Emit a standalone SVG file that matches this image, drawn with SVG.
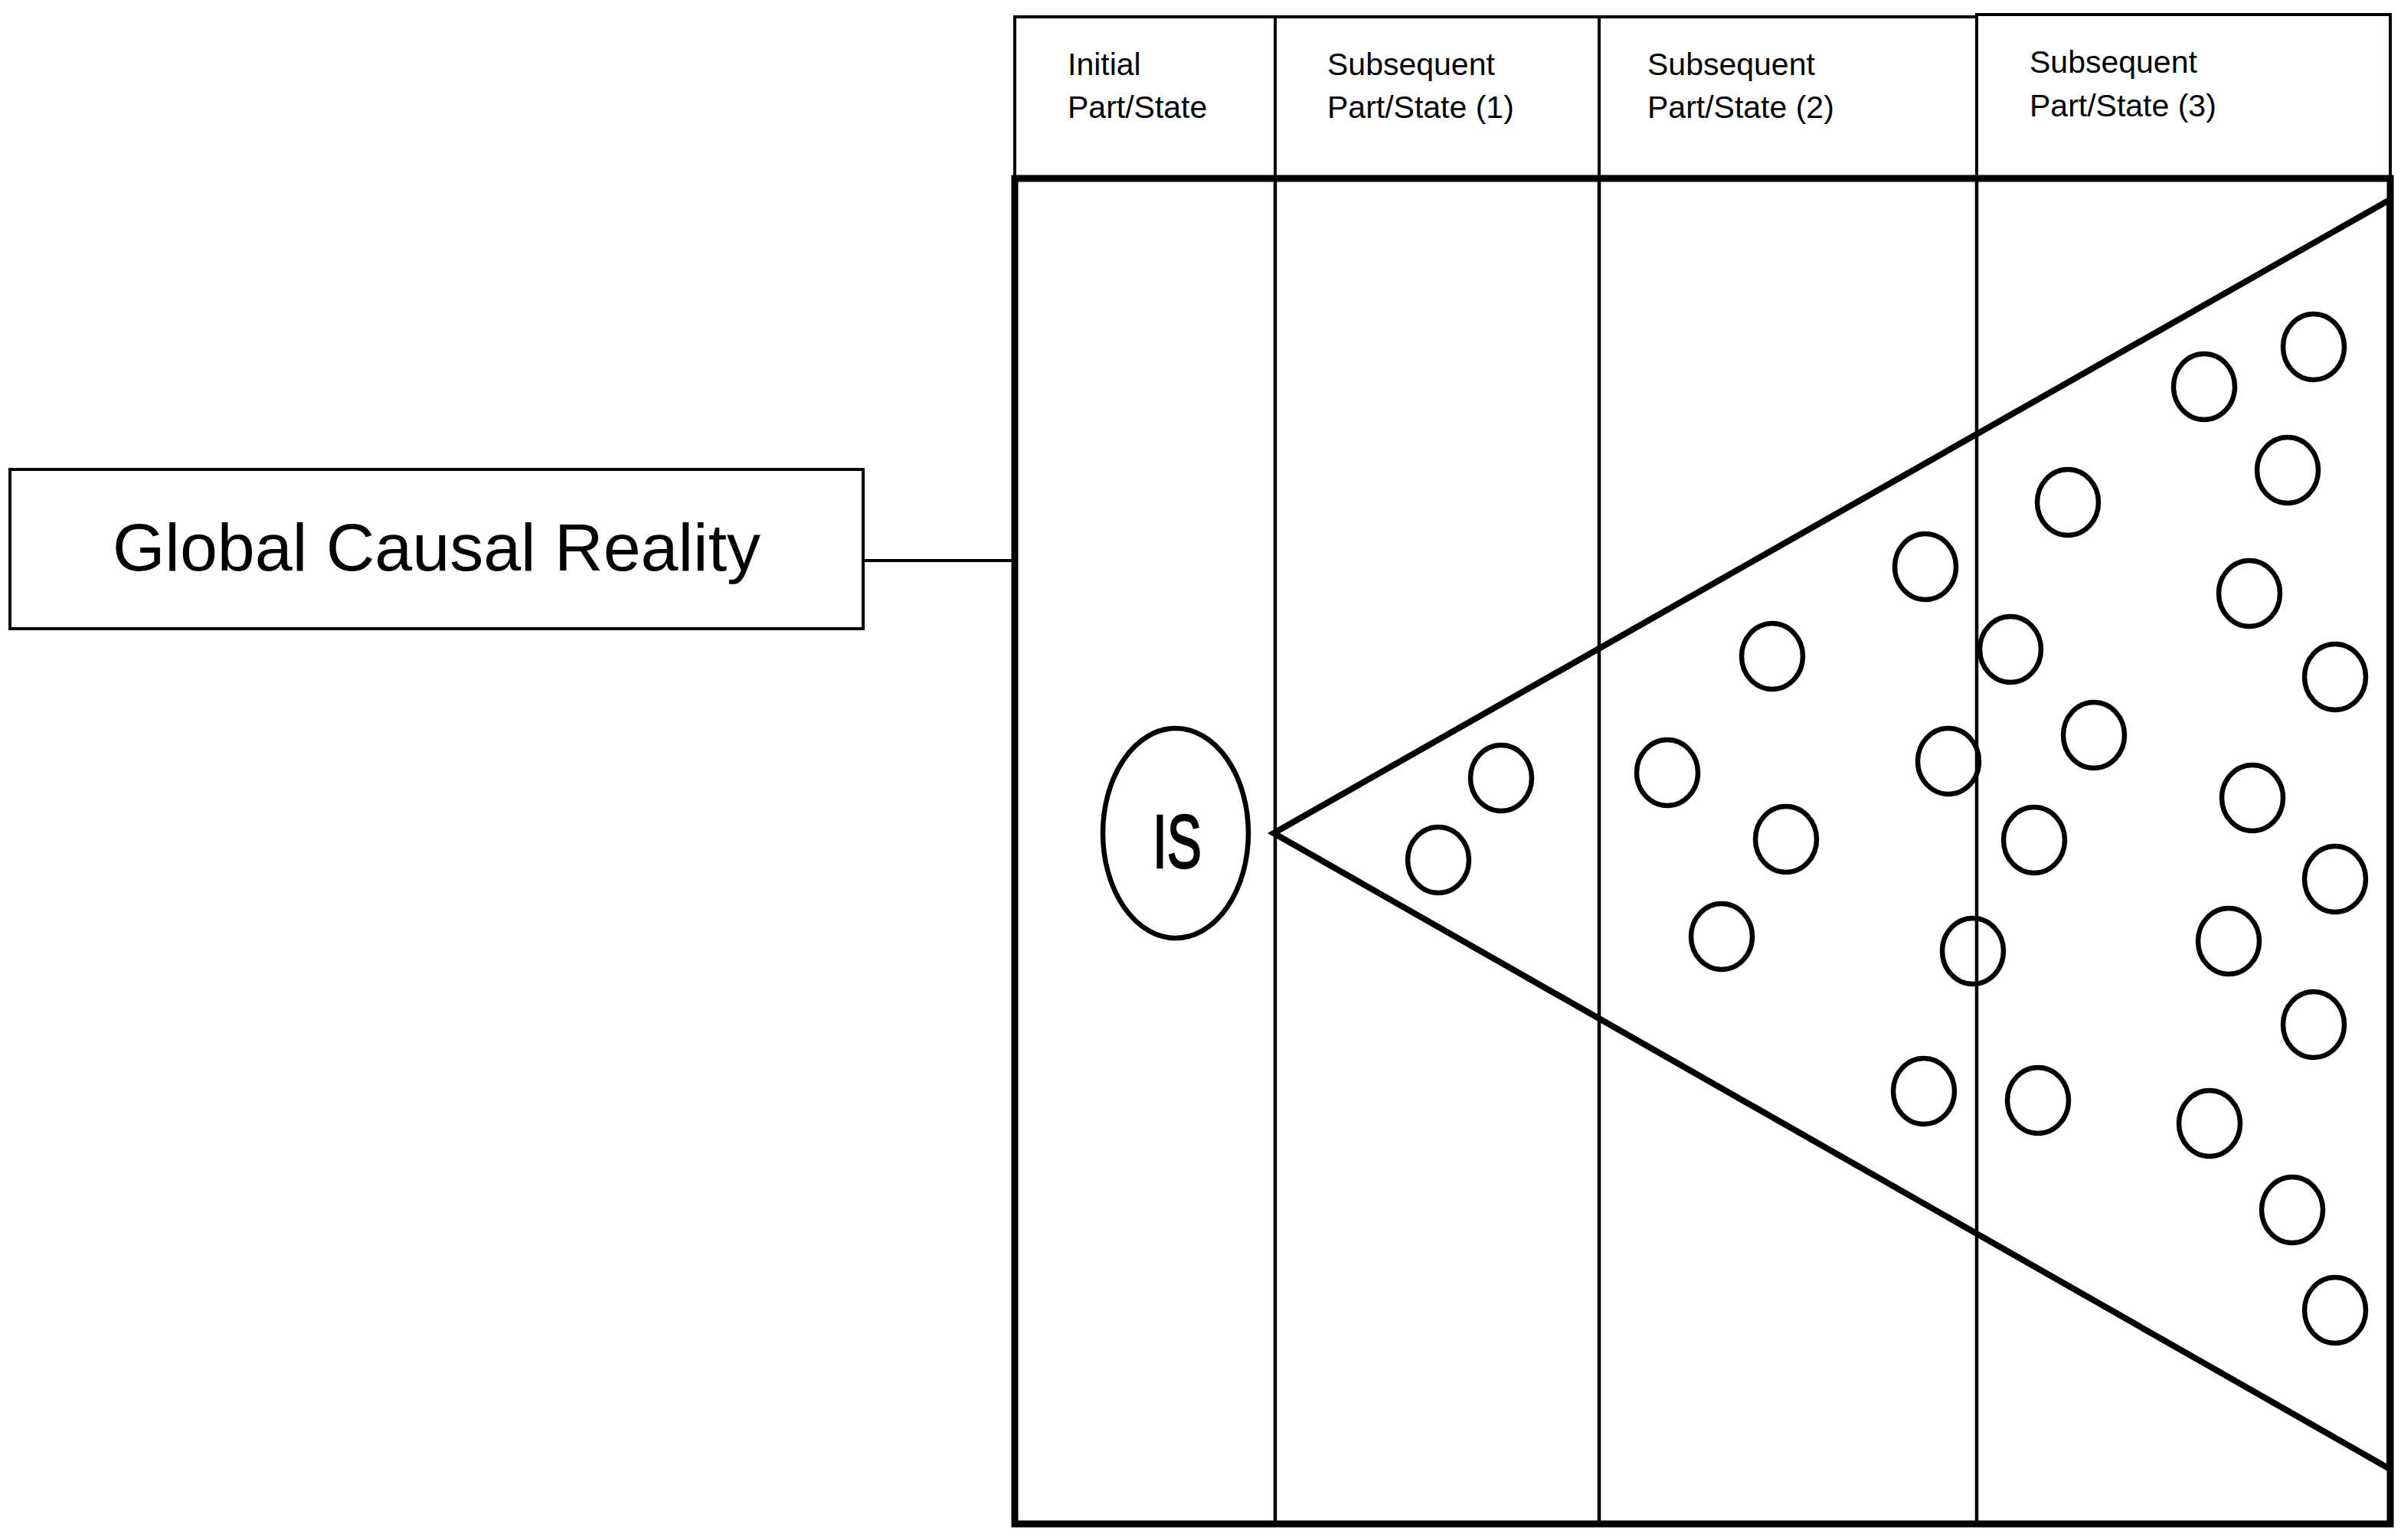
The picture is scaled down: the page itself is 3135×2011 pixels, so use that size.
<svg xmlns="http://www.w3.org/2000/svg" width="3135" height="2011" viewBox="0 0 3135 2011">
  <style>
    .thin { fill: none; stroke: #000; stroke-width: 4; }
    .col { fill: none; stroke: #000; stroke-width: 4.5; }
    .frame { fill: none; stroke: #000; stroke-width: 9; }
    .tri { fill: none; stroke: #000; stroke-width: 8; stroke-linejoin: miter; }
    .dot { fill: none; stroke: #000; stroke-width: 6.5; }
    .hdr { font-family: "Liberation Sans", Arial, sans-serif; font-size: 41px; fill: #000; }
    .big { font-family: "Liberation Sans", Arial, sans-serif; font-size: 88px; fill: #000; }
    .is { font-family: "Liberation Sans", Arial, sans-serif; font-size: 98px; fill: #000; stroke: #000; stroke-width: 2.5; }
  </style>
  <rect width="3135" height="2011" fill="#fff"/>

  <g id="header">
    <rect class="thin" x="1325" y="22" width="340" height="211"/>
    <rect class="thin" x="1665" y="22" width="423" height="211"/>
    <rect class="thin" x="2088" y="22" width="493" height="211"/>
    <rect class="thin" x="2581" y="19" width="540" height="214"/>
    <text class="hdr" x="1394" y="98">Initial</text>
    <text class="hdr" x="1394" y="154">Part/State</text>
    <text class="hdr" x="1733" y="98">Subsequent</text>
    <text class="hdr" x="1733" y="154">Part/State (1)</text>
    <text class="hdr" x="2151" y="98">Subsequent</text>
    <text class="hdr" x="2151" y="154">Part/State (2)</text>
    <text class="hdr" x="2650" y="95">Subsequent</text>
    <text class="hdr" x="2650" y="152">Part/State (3)</text>
  </g>

  <g id="frame">
    <line class="col" x1="1665" y1="233" x2="1665" y2="1990"/>
    <line class="col" x1="2088" y1="233" x2="2088" y2="1990"/>
    <line class="col" x1="2581" y1="233" x2="2581" y2="1990"/>
    <rect class="frame" x="1325" y="233" width="1796" height="1757"/>
  </g>

  <g id="global-causal-reality">
    <rect class="thin" x="13" y="613" width="1114" height="208"/>
    <text class="big" x="570" y="745" text-anchor="middle">Global Causal Reality</text>
  </g>

  <g id="connectors">
    <line class="thin" x1="1127" y1="732" x2="1325" y2="732"/>
  </g>

  <g id="is-node">
    <ellipse class="dot" cx="1535" cy="1088" rx="95" ry="137"/>
    <text class="is" x="1537" y="1133" text-anchor="middle" textLength="64" lengthAdjust="spacingAndGlyphs">IS</text>
  </g>

  <g id="cone">
    <polygon class="tri" points="1663,1088 3120,261 3120,1918"/>
  </g>

  <g id="states">
    <g id="s1"><ellipse class="dot" cx="1960" cy="1016" rx="40" ry="43"/></g>
    <g id="s2"><ellipse class="dot" cx="1878" cy="1123" rx="40" ry="43"/></g>
    <g id="s3"><ellipse class="dot" cx="2314" cy="857" rx="40" ry="43"/></g>
    <g id="s4"><ellipse class="dot" cx="2177" cy="1009" rx="40" ry="43"/></g>
    <g id="s5"><ellipse class="dot" cx="2332" cy="1096" rx="40" ry="43"/></g>
    <g id="s6"><ellipse class="dot" cx="2248" cy="1223" rx="40" ry="43"/></g>
    <g id="s7"><ellipse class="dot" cx="2514" cy="740" rx="40" ry="43"/></g>
    <g id="s8"><ellipse class="dot" cx="2544" cy="994" rx="40" ry="43"/></g>
    <g id="s9"><ellipse class="dot" cx="2576" cy="1242" rx="40" ry="43"/></g>
    <g id="s10"><ellipse class="dot" cx="2512" cy="1425" rx="40" ry="43"/></g>
    <g id="s11"><ellipse class="dot" cx="2700" cy="656" rx="40" ry="43"/></g>
    <g id="s12"><ellipse class="dot" cx="2625" cy="848" rx="40" ry="43"/></g>
    <g id="s13"><ellipse class="dot" cx="2734" cy="960" rx="40" ry="43"/></g>
    <g id="s14"><ellipse class="dot" cx="2656" cy="1097" rx="40" ry="43"/></g>
    <g id="s15"><ellipse class="dot" cx="2661" cy="1437" rx="40" ry="43"/></g>
    <g id="s16"><ellipse class="dot" cx="2878" cy="505" rx="40" ry="43"/></g>
    <g id="s17"><ellipse class="dot" cx="3021" cy="453" rx="40" ry="43"/></g>
    <g id="s18"><ellipse class="dot" cx="2987" cy="614" rx="40" ry="43"/></g>
    <g id="s19"><ellipse class="dot" cx="2937" cy="775" rx="40" ry="43"/></g>
    <g id="s20"><ellipse class="dot" cx="3049" cy="884" rx="40" ry="43"/></g>
    <g id="s21"><ellipse class="dot" cx="2941" cy="1042" rx="40" ry="43"/></g>
    <g id="s22"><ellipse class="dot" cx="3049" cy="1148" rx="40" ry="43"/></g>
    <g id="s23"><ellipse class="dot" cx="2910" cy="1229" rx="40" ry="43"/></g>
    <g id="s24"><ellipse class="dot" cx="3021" cy="1338" rx="40" ry="43"/></g>
    <g id="s25"><ellipse class="dot" cx="2885" cy="1467" rx="40" ry="43"/></g>
    <g id="s26"><ellipse class="dot" cx="2993" cy="1580" rx="40" ry="43"/></g>
    <g id="s27"><ellipse class="dot" cx="3049" cy="1711" rx="40" ry="43"/></g>
  </g>
</svg>
